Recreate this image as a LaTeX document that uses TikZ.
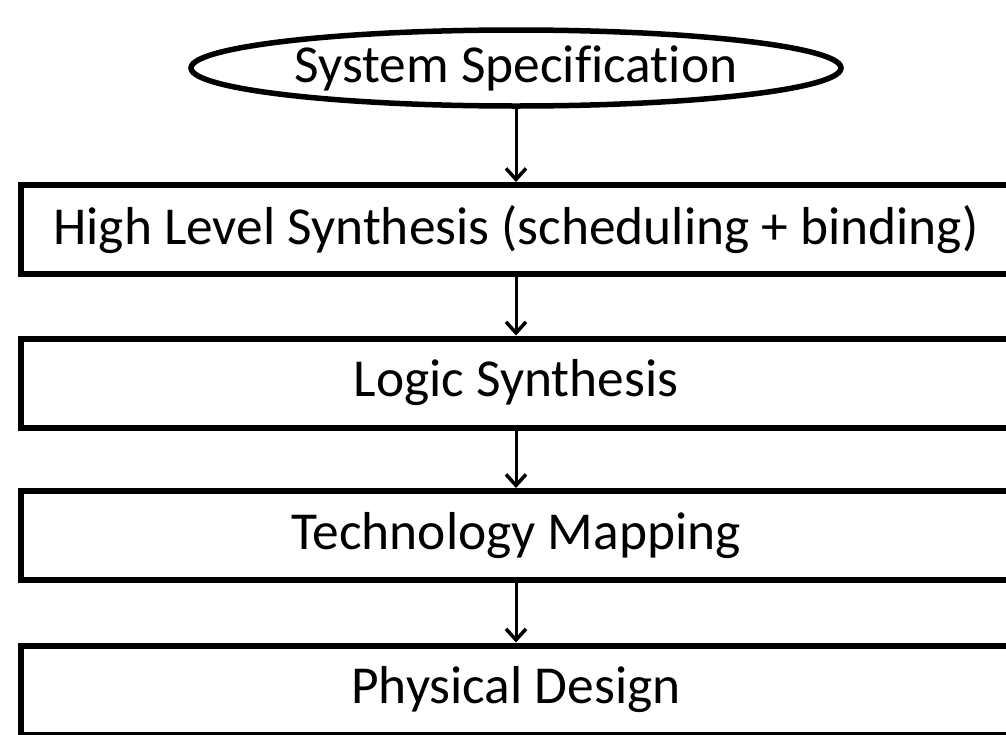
\documentclass[tikz,border=0pt]{standalone}
\usepackage{fontspec}
\setmainfont{Carlito}[Ligatures=NoCommon]
\usetikzlibrary{shapes.geometric,arrows.meta}
\begin{document}
\begin{tikzpicture}[x=1pt,y=-1pt,
  stagebox/.style={draw,line width=6pt,rectangle,minimum width=990pt,minimum height=89pt,inner sep=0pt,font=\fontsize{53.4}{60}\selectfont},
  startell/.style={draw,line width=5.5pt,ellipse,minimum width=650pt,minimum height=76pt,inner sep=0pt,font=\fontsize{53.4}{60}\selectfont},
  flow/.style={line width=3pt,-{Straight Barb[length=11pt,width=20pt,line width=3.5pt]}}]
\clip (0,0) rectangle (1006,734);
\useasboundingbox (0,0) rectangle (1006,734);
\node[startell] (spec) at (516,68) {System Specification};
\node[stagebox] (hls) at (516,229.5) {High Level Synthesis (scheduling + binding)};
\node[stagebox] (logic) at (516,383) {Logic Synthesis};
\node[stagebox] (tech) at (516,535.5) {Technology Mapping};
\node[stagebox] (phys) at (516,690) {Physical Design};
\draw[flow] (spec.south) -- (hls.north);
\draw[flow] (hls.south) -- (logic.north);
\draw[flow] (logic.south) -- (tech.north);
\draw[flow] (tech.south) -- (phys.north);
\end{tikzpicture}
\end{document}
